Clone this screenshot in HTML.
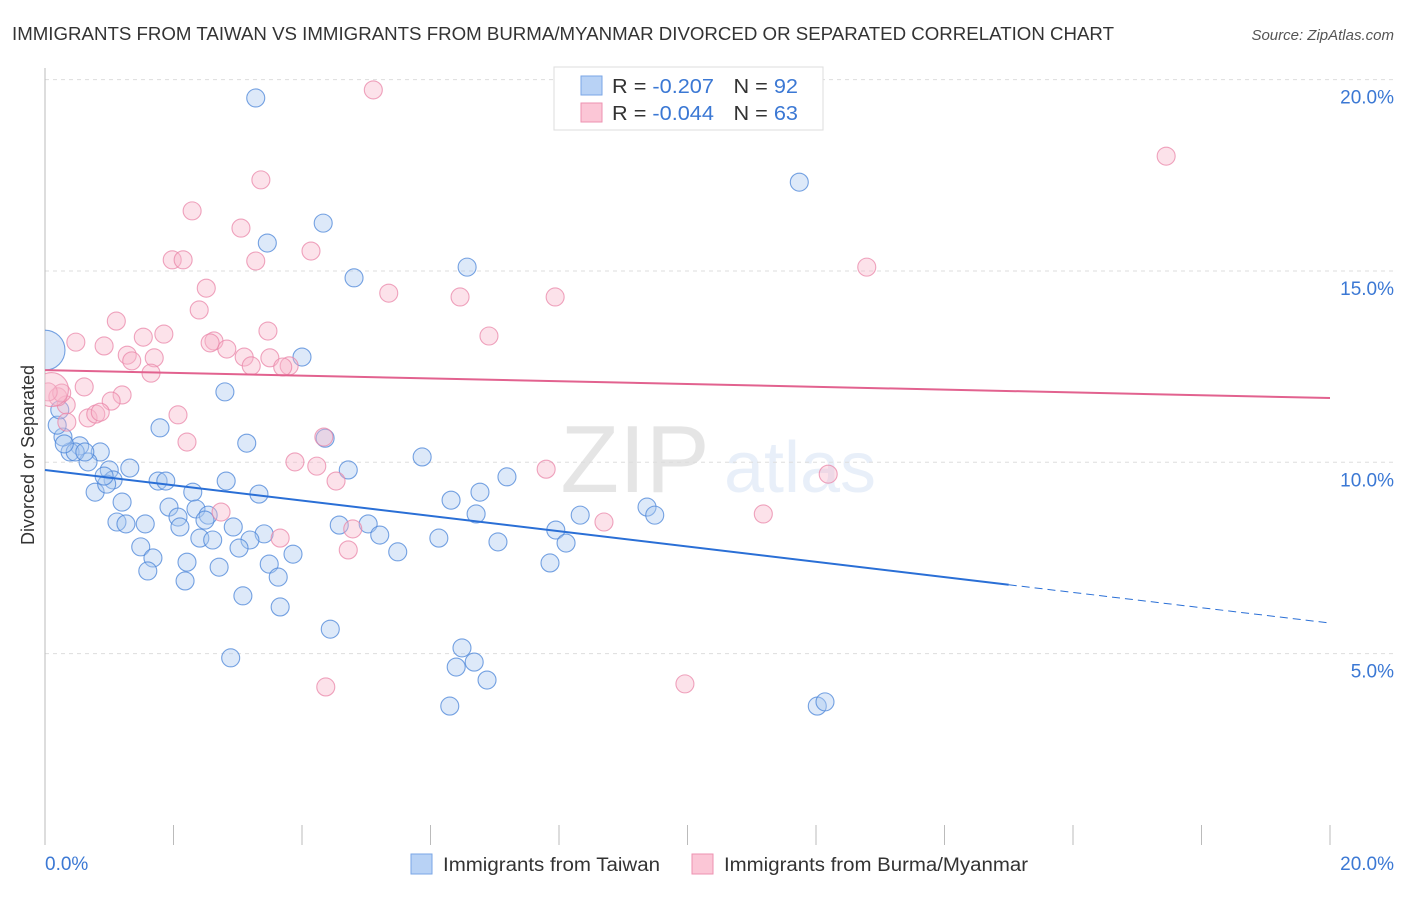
<!DOCTYPE html>
<html><head><meta charset="utf-8"><style>
body{margin:0;background:#fff;font-family:"Liberation Sans",sans-serif}
svg text{font-family:"Liberation Sans",sans-serif}
</style></head><body>
<svg width="1406" height="892" viewBox="0 0 1406 892" id="chart">
<defs><clipPath id="plotclip"><rect x="45" y="60" width="1361" height="790"/></clipPath></defs>
<text x="12" y="40" font-size="18.5" fill="#333" textLength="1102" lengthAdjust="spacingAndGlyphs">IMMIGRANTS FROM TAIWAN VS IMMIGRANTS FROM BURMA/MYANMAR DIVORCED OR SEPARATED CORRELATION CHART</text>
<text x="1394" y="40" font-size="15" fill="#555" font-style="italic" text-anchor="end">Source: ZipAtlas.com</text>
<g opacity="0.12">
<text x="635" y="492" font-size="96" font-family="Liberation Serif" fill="#333" text-anchor="middle">ZIP</text>
<text x="800" y="492" font-size="72" fill="#4a7fd0" text-anchor="middle">atlas</text>
</g>
<g id="grid"></g>
<line x1="45" y1="68" x2="45" y2="845" stroke="#bbb"/>
<text transform="translate(34,455) rotate(-90)" font-size="18" fill="#333" text-anchor="middle">Divorced or Separated</text>
<text x="45" y="870" font-size="19" fill="#3b78d4">0.0%</text>
<text x="1394" y="870" font-size="19" fill="#3b78d4" text-anchor="end">20.0%</text>
<g id="points" clip-path="url(#plotclip)"></g>
<g id="trends"></g>
<g>
<rect x="554" y="67" width="269" height="63" fill="#fff" stroke="#ddd"/>
<rect x="581" y="76" width="21" height="19" fill="#b8d2f5" stroke="#7aa6e6"/>
<rect x="581" y="103" width="21" height="19" fill="#fbc6d6" stroke="#ee92b0"/>
<text x="612" y="93" font-size="20" fill="#333" textLength="186" lengthAdjust="spacingAndGlyphs">R = <tspan fill="#3b78d4"> -0.207</tspan><tspan dx="18">N = </tspan><tspan fill="#3b78d4">92</tspan></text>
<text x="612" y="120" font-size="20" fill="#333" textLength="186" lengthAdjust="spacingAndGlyphs">R = <tspan fill="#3b78d4">-0.044</tspan><tspan dx="18">N = </tspan><tspan fill="#3b78d4">63</tspan></text>
</g>
<g>
<rect x="411" y="854" width="21" height="20" fill="#b8d2f5" stroke="#7aa6e6"/>
<text x="443" y="871" font-size="19" fill="#333" textLength="217" lengthAdjust="spacingAndGlyphs">Immigrants from Taiwan</text>
<rect x="692" y="854" width="21" height="20" fill="#fbc6d6" stroke="#ee92b0"/>
<text x="724" y="871" font-size="19" fill="#333" textLength="304" lengthAdjust="spacingAndGlyphs">Immigrants from Burma/Myanmar</text>
</g>
</svg>
<script>
const yTicks=[5,10,15,20];
const yTickLabels=["5.0%","10.0%","15.0%","20.0%"];
const xTicks=[0,2,4,6,8,10,12,14,16,18,20];
const taiwanX=[3.28,4.33,3.46,4.81,6.57,11.74,4.00,2.80,1.79,3.14,5.87,1.32,1.76,1.88,2.82,3.33,2.30,0.78,1.20,1.93,2.35,2.54,2.07,2.49,1.12,1.26,1.56,2.93,3.41,2.10,2.41,2.61,3.19,3.02,1.49,3.86,1.68,2.21,3.49,2.71,1.60,2.18,3.63,3.08,3.66,4.44,2.89,4.58,5.03,5.21,5.49,6.13,6.32,6.71,6.77,7.19,7.05,7.95,8.11,7.86,8.33,9.37,9.49,6.49,6.40,6.68,6.88,6.30,12.02,12.14,4.72,4.36,0.54,0.86,0.39,0.28,0.19,0.67,1.00,1.06,0.96,0.23,0.47,0.30,0.62,0.92,0.0];
const taiwanY=[19.52,16.25,15.73,14.82,15.10,17.32,12.75,11.84,10.90,10.50,10.14,9.85,9.51,9.51,9.51,9.17,9.22,9.22,8.96,8.83,8.78,8.62,8.57,8.49,8.44,8.39,8.39,8.31,8.13,8.31,8.02,7.97,7.97,7.76,7.79,7.60,7.50,7.39,7.34,7.26,7.16,6.90,7.00,6.51,6.22,5.64,4.89,8.36,8.39,8.10,7.66,8.02,9.01,8.65,9.22,9.62,7.92,8.23,7.89,7.37,8.62,8.83,8.62,5.15,4.65,4.78,4.31,3.63,3.63,3.74,9.80,10.63,10.43,10.27,10.27,10.66,10.97,10.01,9.80,9.54,9.43,11.37,10.27,10.48,10.27,9.64,12.93];
const taiwanSize=taiwanX.map((v,i)=>i===taiwanX.length-1?20:9);
const burmaX=[5.11,17.45,3.36,2.29,3.05,4.14,3.28,1.98,2.15,12.79,5.35,2.51,6.46,7.94,1.11,2.40,6.91,3.47,1.85,1.53,0.48,0.92,2.63,2.57,2.83,1.28,1.70,1.35,3.10,3.50,3.21,3.80,3.70,1.65,0.61,1.20,1.03,0.33,0.20,0.34,0.67,0.79,2.07,2.21,4.34,3.89,4.23,4.53,4.79,4.72,7.80,8.70,12.19,11.18,3.66,2.74,4.37,9.96,0.26,0.86,0.05,0.10];
const burmaY=[19.73,18.00,17.38,16.57,16.12,15.52,15.26,15.29,15.29,15.10,14.42,14.55,14.32,14.32,13.69,13.98,13.30,13.43,13.35,13.27,13.14,13.04,13.17,13.12,12.96,12.80,12.73,12.65,12.75,12.73,12.52,12.52,12.49,12.33,11.97,11.76,11.60,11.50,11.71,11.05,11.16,11.26,11.24,10.53,10.66,10.01,9.90,9.51,8.26,7.71,9.82,8.44,9.69,8.65,8.02,8.70,4.13,4.21,11.81,11.31,11.84,11.90];
const burmaSize=burmaX.map((v,i)=>i===burmaX.length-1?17:9);
const taiwanTrend=[9.80,5.80];
const burmaTrend=[12.41,11.68];
const NS="http://www.w3.org/2000/svg";
const X0=45,X1=1330,Y0=845,PX=38.27;
const sx=v=>X0+(v/20)*(X1-X0);
const sy=v=>Y0-v*PX;
function mk(t,a,p){const e=document.createElementNS(NS,t);for(const k in a)e.setAttribute(k,a[k]);p.appendChild(e);return e;}
const grid=document.getElementById('grid');
yTicks.forEach((t,i)=>{
 const l=mk('line',{x1:X0,x2:1394,y1:sy(t),y2:sy(t),stroke:'#ddd','stroke-dasharray':'4,4'},grid);
 
 
 const tx=mk('text',{x:1394,y:sy(t)+24,'font-size':19,fill:'#3b78d4','text-anchor':'end'},grid);
 tx.textContent=yTickLabels[i];
 
 
});
xTicks.forEach(t=>{
 const l=mk('line',{x1:sx(t),x2:sx(t),y1:825,y2:845,stroke:'#bbb'},grid);
 
 
});
const pts=document.getElementById('points');
function series(xs,ys,rs,fill,stroke,name){
 xs.forEach((x,i)=>{
  const c=mk('circle',{cx:sx(x),cy:sy(ys[i]),r:rs[i],fill:fill,'fill-opacity':0.4,stroke:stroke,'stroke-width':1.1,'stroke-opacity':0.75},pts);
  
  
 });
}
series(taiwanX,taiwanY,taiwanSize,'#a9c8f0','#4a84d8','taiwan-point');
series(burmaX,burmaY,burmaSize,'#f7b7cb','#ea86a8','burma-point');
const tr=document.getElementById('trends');
const ty=x=>taiwanTrend[0]+(taiwanTrend[1]-taiwanTrend[0])*x/20;
let l=mk('line',{x1:sx(0),y1:sy(ty(0)),x2:sx(15),y2:sy(ty(15)),stroke:'#2a6fd6','stroke-width':2},tr);


l=mk('line',{x1:sx(15),y1:sy(ty(15)),x2:sx(20),y2:sy(ty(20)),stroke:'#2a6fd6','stroke-width':1,'stroke-dasharray':'8,5'},tr);


l=mk('line',{x1:sx(0),y1:sy(burmaTrend[0]),x2:sx(20),y2:sy(burmaTrend[1]),stroke:'#e2628f','stroke-width':2},tr);


</script>
</body></html>
